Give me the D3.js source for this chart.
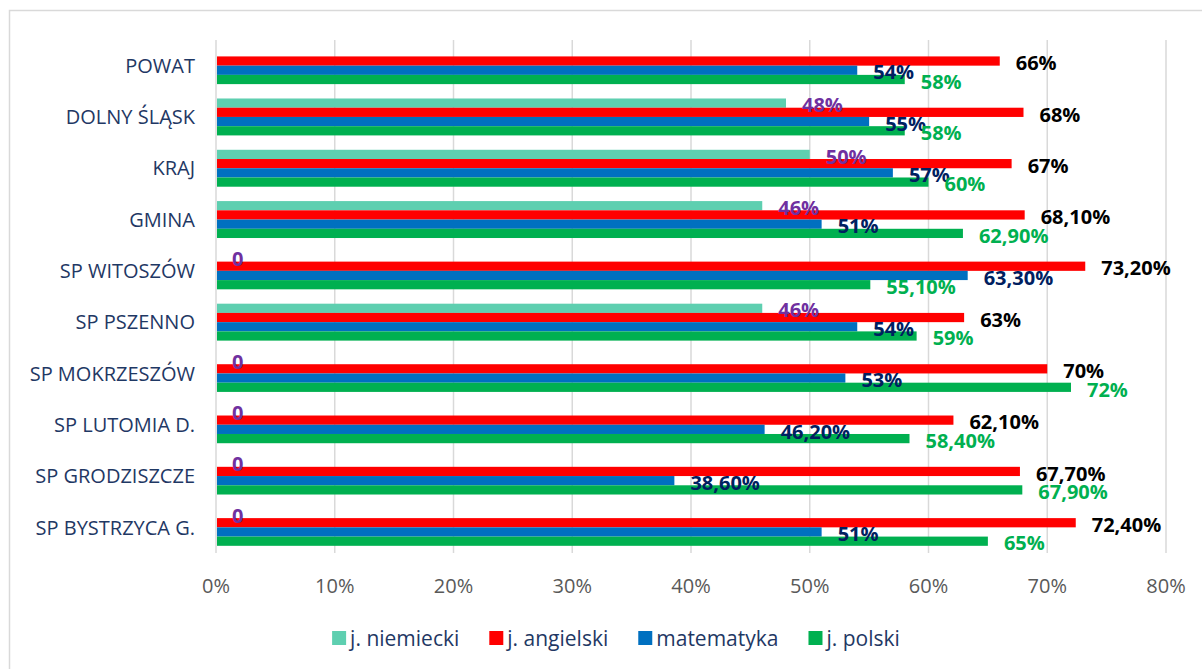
<!DOCTYPE html>
<html>
<head>
<meta charset="utf-8">
<script src="https://cdn.jsdelivr.net/npm/d3@7"></script>
<style>
  html, body { margin: 0; padding: 0; background: #fff; }
  svg { display: block; font-family: "Open Sans", sans-serif; }
</style>
</head>
<body>
<script>
const categories = ['POWAT', 'DOLNY ŚLĄSK', 'KRAJ', 'GMINA', 'SP WITOSZÓW', 'SP PSZENNO',
                    'SP MOKRZESZÓW', 'SP LUTOMIA D.', 'SP GRODZISZCZE', 'SP BYSTRZYCA G.'];
const seriesNames = ['j. niemiecki', 'j. angielski', 'matematyka', 'j. polski'];
const niemiecki  = [null, 48, 50, 46, 0, 46, 0, 0, 0, 0];
const angielski  = [66, 68, 67, 68.1, 73.2, 63, 70, 62.1, 67.7, 72.4];
const matematyka = [54, 55, 57, 51, 63.3, 54, 53, 46.2, 38.6, 51];
const polski     = [58, 58, 60, 62.9, 55.1, 59, 72, 58.4, 67.9, 65];
const ticks = [0, 10, 20, 30, 40, 50, 60, 70, 80];

const barColors   = ['#5ECFB0', '#FF0000', '#0070C0', '#00B050'];
const labelColors = ['#7030A0', '#000000', '#002060', '#00B050'];
const seriesValues = [niemiecki, angielski, matematyka, polski];

const W = 1202, H = 669;
const PLOT = { left: 216, right: 1166, top: 40, bottom: 553 };

const svg = d3.select('body').append('svg')
  .attr('width', W).attr('height', H);

// chart frame
svg.append('rect')
  .attr('x', 9.5).attr('y', 10.5)
  .attr('width', 1210).attr('height', 680)
  .attr('fill', '#fff').attr('stroke', '#D9D9D9').attr('stroke-width', 1.5);

const x = d3.scaleLinear().domain([0, 80]).range([PLOT.left, PLOT.right]);
const y = d3.scaleBand().domain(categories).range([PLOT.top, PLOT.bottom])
  .paddingInner(0.28).paddingOuter(0.14);
const ySub = d3.scaleBand().domain(seriesNames).range([0, y.bandwidth()]);

// gridlines
svg.append('g').selectAll('line').data(ticks).join('line')
  .attr('x1', d => x(d)).attr('x2', d => x(d))
  .attr('y1', PLOT.top).attr('y2', PLOT.bottom)
  .attr('stroke', '#D9D9D9').attr('stroke-width', 1.5);

// x tick labels
svg.append('g').selectAll('text').data(ticks).join('text')
  .attr('x', d => x(d)).attr('y', 593)
  .attr('text-anchor', 'middle')
  .attr('font-size', 20).attr('fill', '#595959')
  .text(d => d + '%');

// category labels
svg.append('g').selectAll('text').data(categories).join('text')
  .attr('x', 195).attr('y', d => y(d) + y.bandwidth() / 2)
  .attr('dy', '0.36em')
  .attr('text-anchor', 'end')
  .attr('font-size', 20).attr('fill', '#1F3864')
  .text(d => d);

const fmt = v => v === 0 ? '0'
  : Number.isInteger(v) ? v + '%'
  : v.toFixed(2).replace('.', ',') + '%';

const rows = [];
seriesValues.forEach((vals, s) => {
  vals.forEach((v, i) => {
    if (v !== null) rows.push({ s, cat: categories[i], v });
  });
});

// bars
svg.append('g').selectAll('rect').data(rows).join('rect')
  .attr('x', x(0) + 1)
  .attr('y', d => y(d.cat) + ySub(seriesNames[d.s]))
  .attr('width', d => Math.max(0, x(d.v) - x(0) - 1))
  .attr('height', ySub.bandwidth())
  .attr('fill', d => barColors[d.s]);

// data labels
svg.append('g').selectAll('text').data(rows).join('text')
  .attr('x', d => x(d.v) + 16)
  .attr('y', d => y(d.cat) + ySub(seriesNames[d.s]) + ySub.bandwidth() / 2 + 2)
  .attr('dy', '0.36em')
  .attr('font-size', 20).attr('font-weight', 'bold')
  .attr('fill', d => labelColors[d.s])
  .text(d => fmt(d.v));

// legend
const legend = svg.append('g');
const items = legend.selectAll('g').data(seriesNames).join('g');
items.append('rect')
  .attr('width', 14).attr('height', 14).attr('y', -7)
  .attr('fill', (d, i) => barColors[i]);
items.append('text')
  .attr('x', 18).attr('dy', '0.36em')
  .attr('font-size', 21).attr('fill', '#1F3864')
  .text(d => d);
let offset = 0;
items.each(function () {
  const w = d3.select(this).select('text').node().getComputedTextLength();
  d3.select(this).attr('data-off', offset);
  offset += 18 + w + 30;
});
const total = offset - 30;
const startX = 616 - total / 2;
items.attr('transform', function () {
  return `translate(${startX + +this.getAttribute('data-off')}, 638)`;
});
</script>
</body>
</html>
